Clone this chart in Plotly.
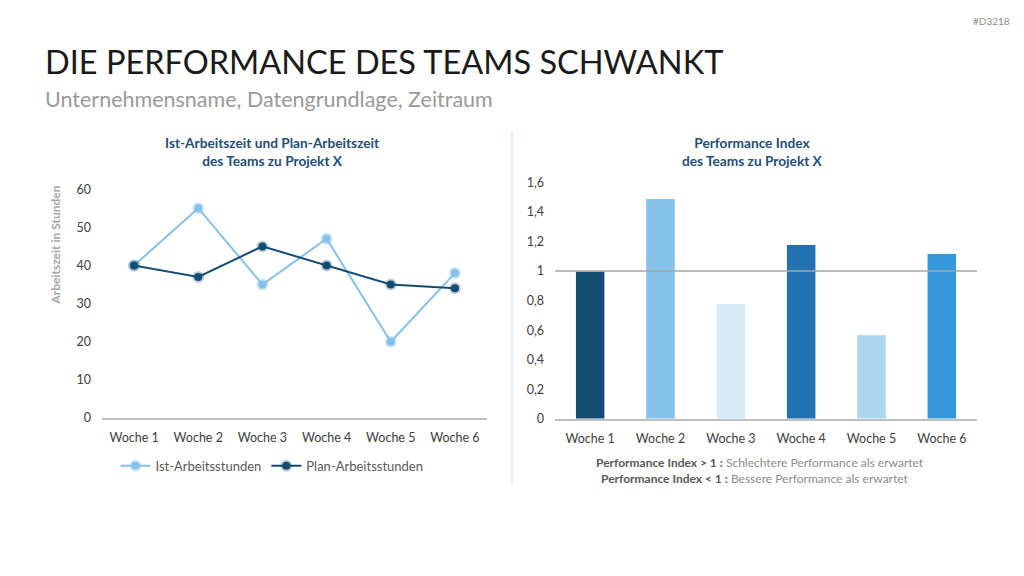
import plotly.graph_objects as go

weeks = ["Woche 1", "Woche 2", "Woche 3", "Woche 4", "Woche 5", "Woche 6"]
ist_hours = [40, 55, 35, 47, 20, 38]
plan_hours = [40, 37, 45, 40, 35, 34]
perf_index = [1.0, 1.49, 0.78, 1.18, 0.57, 1.12]
bar_colors = ["#154C73", "#85C1E9", "#D6EAF8", "#2271B1", "#AED6F1", "#3498DB"]
left_yticks = [0, 10, 20, 30, 40, 50, 60]
right_yticks = [0, 0.2, 0.4, 0.6, 0.8, 1.0, 1.2, 1.4, 1.6]
right_yticklabels = ["0", "0,2", "0,4", "0,6", "0,8", "1", "1,2", "1,4", "1,6"]

W, H = 1024, 576
FONT = "Lato"

def px_x(p):
    return p / W

def px_y(p):
    return 1 - p / H

fig = go.Figure()

fig.add_trace(go.Scatter(
    x=weeks, y=ist_hours, mode="lines+markers", name="Ist-Arbeitsstunden",
    line=dict(color="#85C1E9", width=2),
    marker=dict(size=8, color="#85C1E9", line=dict(color="rgba(133,193,233,0.4)", width=4)),
    xaxis="x", yaxis="y",
))
fig.add_trace(go.Scatter(
    x=weeks, y=plan_hours, mode="lines+markers", name="Plan-Arbeitsstunden",
    line=dict(color="#154C73", width=2),
    marker=dict(size=8, color="#154C73", line=dict(color="rgba(21,76,115,0.28)", width=4)),
    xaxis="x", yaxis="y",
))
fig.add_trace(go.Bar(
    x=weeks, y=perf_index, marker=dict(color=bar_colors, line=dict(color="white", width=1)),
    width=0.42, showlegend=False, xaxis="x2", yaxis="y2",
))

axis_font = dict(family=FONT, size=12.5, color="#404040")

fig.update_layout(
    width=W, height=H,
    margin=dict(l=0, r=0, t=0, b=0),
    paper_bgcolor="white", plot_bgcolor="white",
    separators=",.",
    font=dict(family=FONT, color="#404040"),
    xaxis=dict(domain=[px_x(102), px_x(487)], range=[-0.5, 5.5], showgrid=False, showline=True,
               linecolor="#BFBFBF", linewidth=1.5, ticks="", tickfont=axis_font,
               anchor="y", ticklabelstandoff=7, tickangle=0),
    yaxis=dict(domain=[px_y(421), px_y(186)], range=[0, 60], showgrid=False,
               showline=False, zeroline=False, tickvals=left_yticks, tickfont=axis_font,
               anchor="x", ticklabelstandoff=10),
    xaxis2=dict(domain=[px_x(555), px_x(977)], range=[-0.5, 5.5], showgrid=False, showline=True,
                linecolor="#BFBFBF", linewidth=1.5, ticks="", tickfont=axis_font,
                anchor="y2", ticklabelstandoff=7, tickangle=0),
    yaxis2=dict(domain=[px_y(422), px_y(179)], range=[0, 1.6], showgrid=False,
                showline=False, zeroline=False, tickvals=right_yticks,
                ticktext=right_yticklabels, tickfont=axis_font, anchor="x2",
                ticklabelstandoff=10),
    legend=dict(orientation="h", x=px_x(272), xanchor="center", y=px_y(470),
                yanchor="middle", font=dict(family=FONT, size=13, color="#595959"),
                bgcolor="rgba(0,0,0,0)", itemwidth=30, tracegroupgap=0),
)

# reference line at 1
fig.add_shape(type="line", xref="x2 domain", yref="y2", x0=0, x1=1, y0=1, y1=1,
              line=dict(color="#A6A6A6", width=1.5), layer="above")
# separator
fig.add_shape(type="line", xref="paper", yref="paper", x0=px_x(512), x1=px_x(512),
              y0=px_y(127), y1=px_y(488), line=dict(color="#D6E6F4", width=1.5))

def note(text, x, y, size, color, xanchor="center", angle=0):
    return dict(text=text, x=px_x(x), y=px_y(y), xref="paper", yref="paper",
                xanchor=xanchor, yanchor="middle", showarrow=False, textangle=angle,
                font=dict(family=FONT, size=size, color=color))

ann = [
    note("DIE PERFORMANCE DES TEAMS SCHWANKT", 43, 55, 32.5, "#1a1a1a", "left"),
    note("Unternehmensname, Datengrundlage, Zeitraum", 43, 93, 21.5, "#999999", "left"),
    note("#D3218", 1012, 13, 10, "#8C8C8C", "right"),
    note("<b>Ist-Arbeitszeit und Plan-Arbeitszeit<br>des Teams zu Projekt X</b>", 272, 147, 13.7, "#1F4E79"),
    note("<b>Performance Index<br>des Teams zu Projekt X</b>", 752, 147, 13.7, "#1F4E79"),
    note("<b>Arbeitszeit in Stunden</b>", 56, 244, 12, "#A6A6A6", angle=-90),
    note("<b>Performance Index &gt; 1 :</b> <span style='color:#8C8C8C'>Schlechtere Performance als erwartet</span>",
         760, 467, 12, "#595959"),
    note("<b>Performance Index &lt; 1 :</b> <span style='color:#8C8C8C'>Bessere Performance als erwartet</span>",
         755, 483, 12, "#595959"),
]
fig.update_layout(annotations=ann)

fig.write_html("out.html")
